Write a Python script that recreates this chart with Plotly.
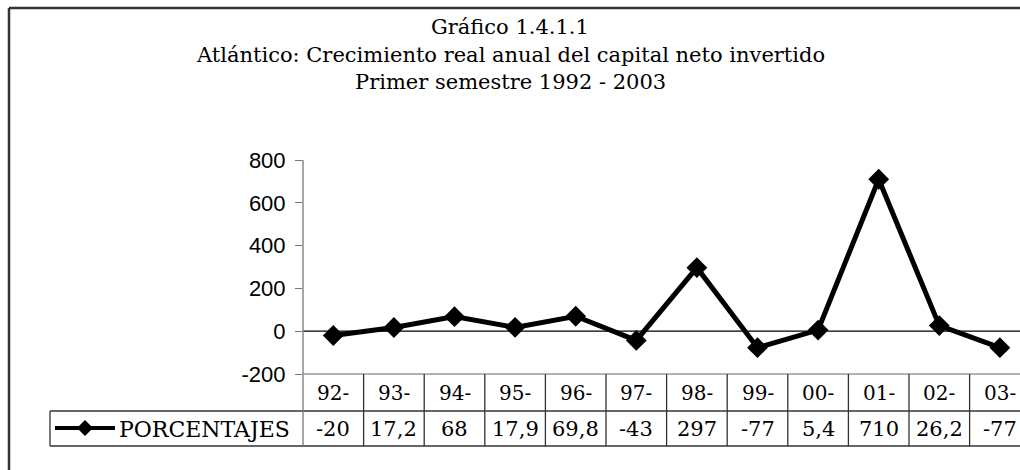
import plotly.graph_objects as go

categories = ["92-", "93-", "94-", "95-", "96-", "97-", "98-", "99-", "00-", "01-", "02-", "03-"]
values = [-20, 17.2, 68, 17.9, 69.8, -43, 297, -77, 5.4, 710, 26.2, -77]
series_name = "PORCENTAJES"
y_ticks = [-200, 0, 200, 400, 600, 800]
title_lines = ["Gráfico 1.4.1.1",
               "Atlántico: Crecimiento real anual del capital neto invertido",
               "Primer semestre 1992 - 2003"]

W, H = 1020, 470
L, T, B = 303, 160, 96
PW = W - L
PH = H - T - B
COLW = 60.6
xmax = -0.5 + PW / COLW


def px_x(p):
    return (p - L) / PW


def px_y(p):
    return (H - B - p) / PH


def fmt(v):
    return ("%g" % v).replace(".", ",")


xs = list(range(len(categories)))
fig = go.Figure()
fig.add_trace(go.Scatter(
    x=xs, y=values, mode="lines+markers", name=series_name,
    line=dict(color="black", width=5),
    marker=dict(symbol="diamond", size=16, color="black"),
    showlegend=False, cliponaxis=False,
))

serif = "DejaVu Serif"
shapes = []
ann = []
line_dark = dict(color="#333", width=1.3)
line_gray = dict(color="#999", width=1.3)

# zero line
shapes.append(dict(type="line", xref="paper", yref="y", x0=0, x1=1, y0=0, y1=0,
                   line=dict(color="black", width=1.2), layer="below"))
# table horizontal lines
shapes.append(dict(type="line", xref="paper", yref="paper", x0=0, x1=1,
                   y0=0, y1=0, line=line_gray))
for py in (411, 446):
    shapes.append(dict(type="line", xref="paper", yref="paper", x0=px_x(50), x1=1,
                       y0=px_y(py), y1=px_y(py), line=line_dark))
# legend cell left border
shapes.append(dict(type="line", xref="paper", yref="paper", x0=px_x(50), x1=px_x(50),
                   y0=px_y(411), y1=px_y(446), line=line_dark))
# y axis line extended through table
shapes.append(dict(type="line", xref="paper", yref="paper", x0=0, x1=0,
                   y0=px_y(446), y1=1, line=dict(color="#777", width=1.3)))
# vertical cell separators
for i in range(len(categories)):
    xb = i + 0.5
    if xb < xmax:
        shapes.append(dict(type="line", xref="x", yref="paper", x0=xb, x1=xb,
                           y0=px_y(446), y1=0, line=line_dark))
# table texts
for i, (c, v) in enumerate(zip(categories, values)):
    ann.append(dict(x=i, y=px_y(393), xref="x", yref="paper", text=c, showarrow=False,
                    yanchor="middle", font=dict(family=serif, size=20, color="black")))
    ann.append(dict(x=i, y=px_y(429), xref="x", yref="paper", text=fmt(v), showarrow=False,
                    yanchor="middle", font=dict(family=serif, size=21, color="black")))
# legend key
shapes.append(dict(type="line", xref="paper", yref="paper", x0=px_x(55), x1=px_x(115),
                   y0=px_y(428), y1=px_y(428), line=dict(color="black", width=4)))
cx, cy, r = 85, 428, 8
path = "M {} {} L {} {} L {} {} L {} {} Z".format(
    px_x(cx), px_y(cy - r), px_x(cx + r), px_y(cy), px_x(cx), px_y(cy + r), px_x(cx - r), px_y(cy))
shapes.append(dict(type="path", xref="paper", yref="paper", path=path,
                   fillcolor="black", line=dict(color="black", width=0)))
ann.append(dict(x=px_x(117), y=px_y(429), xref="paper", yref="paper", text=series_name,
                showarrow=False, xanchor="left", yanchor="middle",
                font=dict(family=serif, size=22, color="black")))
# title
for k, t in enumerate(title_lines):
    ann.append(dict(x=px_x(510), y=px_y(27 + 27.5 * k), xref="paper", yref="paper", text=t,
                    showarrow=False, xanchor="center", yanchor="middle",
                    font=dict(family=serif, size=21, color="black")))
# outer frame
shapes.append(dict(type="line", xref="paper", yref="paper", x0=px_x(9), x1=px_x(1030),
                   y0=px_y(8), y1=px_y(8), line=dict(color="#333", width=2.5)))
shapes.append(dict(type="line", xref="paper", yref="paper", x0=px_x(9), x1=px_x(9),
                   y0=px_y(8), y1=px_y(480), line=dict(color="#333", width=2.5)))

fig.update_layout(
    width=W, height=H,
    margin=dict(l=L, r=0, t=T, b=B, pad=0),
    paper_bgcolor="white", plot_bgcolor="white",
    shapes=shapes, annotations=ann,
    xaxis=dict(range=[-0.5, xmax], showticklabels=False, showgrid=False, zeroline=False,
               showline=False, ticks=""),
    yaxis=dict(range=[-200, 800], tickvals=y_ticks, ticktext=[str(v) for v in y_ticks],
               showgrid=False, zeroline=False,
               showline=False, ticks="outside", ticklen=7, tickcolor="#777", tickwidth=1.3,
               ticklabelstandoff=5,
               tickfont=dict(family="Liberation Sans", size=22, color="black")),
)

fig.write_html("out.html", config={"displayModeBar": False},
               post_script="document.body.style.margin='0px';")
